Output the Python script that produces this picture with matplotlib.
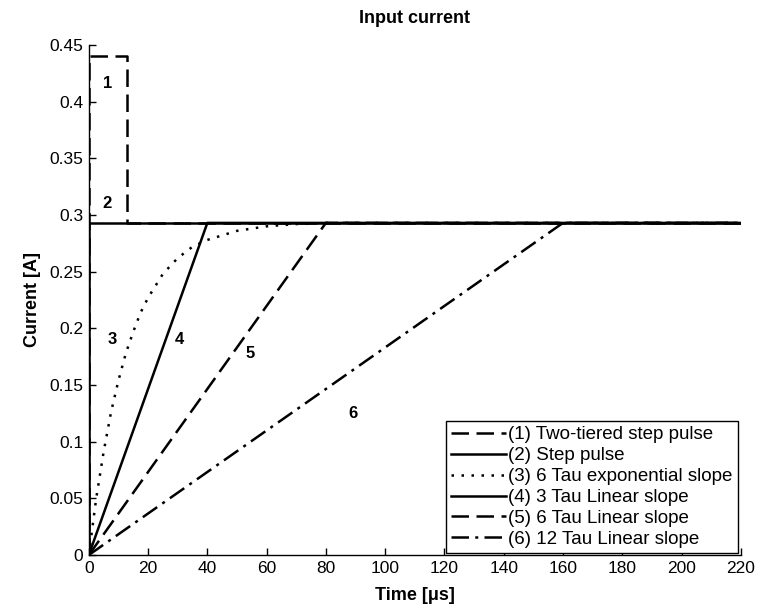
import matplotlib
matplotlib.use("Agg")
import matplotlib.pyplot as plt

plt.rcParams['font.family'] = ['Liberation Sans', 'DejaVu Sans']

# values (time in us, current in A)
t_two_tier = [0, 0, 13, 13, 220]
i_two_tier = [0, 0.44, 0.44, 0.293, 0.293]

t_step = [0, 0, 220]
i_step = [0, 0.293, 0.293]

t_exp = [0, 2.5, 5, 7.5, 10, 12.5, 15, 17.5, 20, 25, 30, 35, 40, 50, 60, 70, 80, 220]
i_exp = [0, 0.050, 0.091, 0.126, 0.154, 0.178, 0.197, 0.214, 0.227, 0.248, 0.262,
         0.272, 0.278, 0.286, 0.290, 0.292, 0.293, 0.293]

t_lin3 = [0, 40, 220]
i_lin3 = [0, 0.293, 0.293]
t_lin6 = [0, 80, 220]
i_lin6 = [0, 0.293, 0.293]
t_lin12 = [0, 160, 220]
i_lin12 = [0, 0.293, 0.293]

labels = ["(1) Two-tiered step pulse", "(2) Step pulse", "(3) 6 Tau exponential slope",
          "(4) 3 Tau Linear slope", "(5) 6 Tau Linear slope", "(6) 12 Tau Linear slope"]
tags = ["1", "2", "3", "4", "5", "6"]
tag_t = [6.3, 6.0, 8.0, 30.5, 54.5, 89.0]
tag_i = [0.416, 0.310, 0.190, 0.190, 0.178, 0.125]

fig = plt.figure(figsize=(7.59, 6.16), dpi=100)
ax = fig.add_axes([0.117, 0.099, 0.859, 0.828])

lw = 1.8
dash = (0, (7, 3))
ax.plot(t_two_tier, i_two_tier, color="k", lw=lw, ls=dash, label=labels[0])
ax.plot(t_step, i_step, color="k", lw=lw, ls="-", label=labels[1])
ax.plot(t_exp, i_exp, color="k", lw=lw, ls=(0, (1, 3)), label=labels[2])
ax.plot(t_lin3, i_lin3, color="k", lw=lw, ls="-", label=labels[3])
ax.plot(t_lin6, i_lin6, color="k", lw=lw, ls=dash, label=labels[4])
ax.plot(t_lin12, i_lin12, color="k", lw=lw, ls=(0, (7, 2.5, 1.2, 2.5)), label=labels[5])

for s, x, y in zip(tags, tag_t, tag_i):
    ax.text(x, y, s, fontsize=12, fontweight="bold", ha="center", va="center")

ax.set_xlim(0, 220)
ax.set_ylim(0, 0.45)
ax.set_xticks(range(0, 221, 20))
ax.set_yticks([0, 0.05, 0.1, 0.15, 0.2, 0.25, 0.3, 0.35, 0.4, 0.45])
ax.set_yticklabels(["0", "0.05", "0.1", "0.15", "0.2", "0.25", "0.3", "0.35", "0.4", "0.45"])
ax.tick_params(direction="in", length=5, labelsize=12.5, width=1, pad=4)
ax.spines["top"].set_visible(False)
ax.spines["right"].set_visible(False)
for sp in ["left", "bottom"]:
    ax.spines[sp].set_linewidth(1)

ax.set_title("Input current", fontsize=13, fontweight="bold", pad=16)
ax.set_xlabel("Time [\u03bcs]", fontsize=13, fontweight="bold", labelpad=8)
ax.set_ylabel("Current [A]", fontsize=13, fontweight="bold", labelpad=6)

leg = ax.legend(loc="lower right", bbox_to_anchor=(0.995, 0.003), fontsize=13.5,
                fancybox=False, edgecolor="k", framealpha=1, handlelength=2.9,
                handletextpad=0.1, borderpad=0.3, labelspacing=0.2, borderaxespad=0)
leg.get_frame().set_linewidth(1)

fig.savefig("out.png", dpi=100)
